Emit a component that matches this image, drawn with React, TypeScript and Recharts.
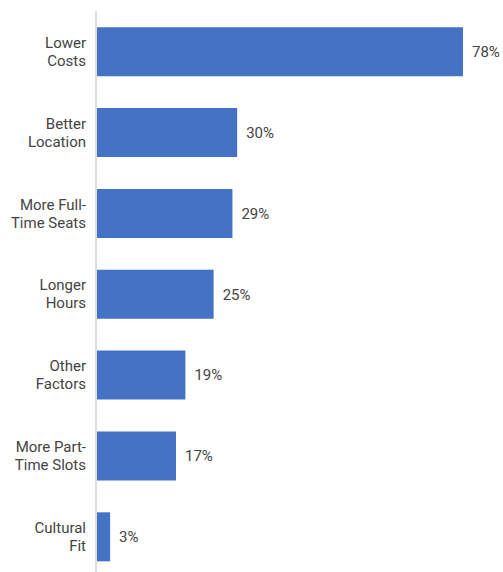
import { BarChart, Bar, XAxis, YAxis, LabelList } from 'recharts';

// reasons, top to bottom (\n marks the line break in the axis label)
const reasons = [
  'Lower\nCosts',
  'Better\nLocation',
  'More Full-\nTime Seats',
  'Longer\nHours',
  'Other\nFactors',
  'More Part-\nTime Slots',
  'Cultural\nFit',
];
const shares = [78, 30, 29, 25, 19, 17, 3];

const data = reasons.map((reason, i) => ({ reason, share: shares[i] }));

const font = 'Roboto, "Noto Sans", sans-serif';

function ReasonTick(props: any) {
  const { x, y, payload } = props;
  const lines: string[] = String(payload.value).split('\n');
  const lineH = 18;
  const start = y - ((lines.length - 1) * lineH) / 2;
  return (
    <text x={x} y={start} textAnchor="end" fontSize={15} fill="#444" fontFamily={font}>
      {lines.map((l, i) => (
        <tspan key={i} x={x} y={start + i * lineH} dy="0.36em">
          {l}
        </tspan>
      ))}
    </text>
  );
}

export default function App() {
  return (
    <>
      {/* full-window chart; it runs past the bottom edge like the original */}
      <style>{'html, body { margin: 0; overflow: hidden; } .recharts-surface { overflow: visible; }'}</style>
      <div style={{ width: 503, height: 572, overflow: 'hidden' }}>
        <BarChart
          width={503}
          height={580}
          data={data}
          layout="vertical"
          margin={{ top: 11, right: 40, bottom: 3, left: 8 }}
          barCategoryGap="20%"
        >
          <XAxis type="number" domain={[0, 'dataMax']} hide />
          <YAxis
            dataKey="reason"
            type="category"
            width={88}
            tickLine={false}
            tickSize={8}
            tickMargin={2}
            axisLine={{ stroke: '#dedede', strokeWidth: 2 }}
            tick={<ReasonTick />}
            interval={0}
          />
          <Bar dataKey="share" fill="#4472C4" isAnimationActive={false}>
            <LabelList
              dataKey="share"
              position="right"
              offset={9}
              formatter={(v: any) => `${v}%`}
              style={{ fontSize: 15, fill: '#444', fontFamily: font }}
            />
          </Bar>
        </BarChart>
      </div>
    </>
  );
}
